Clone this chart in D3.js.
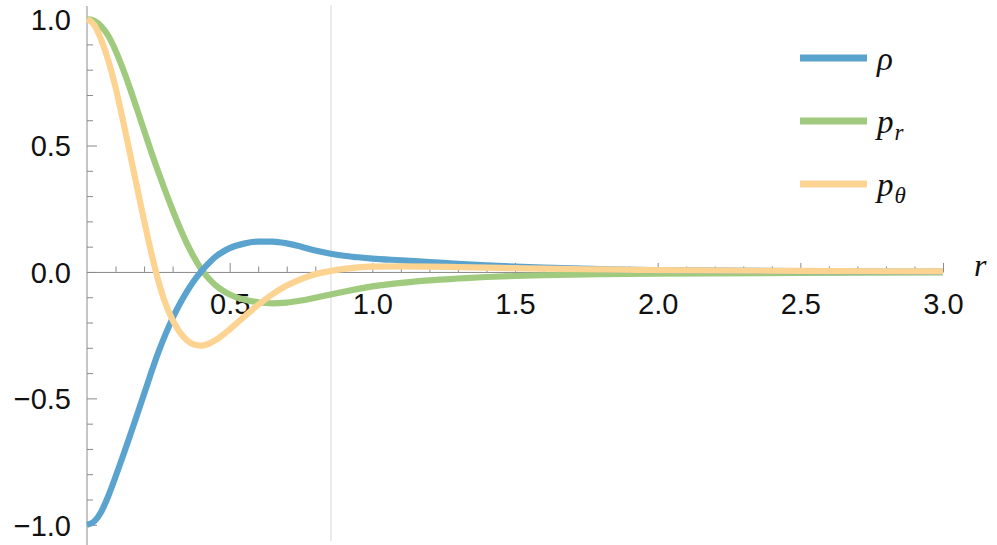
<!DOCTYPE html>
<html><head><meta charset="utf-8">
<script src="https://cdn.jsdelivr.net/npm/d3@7"></script>
<style>body{margin:0;background:#fff} svg{display:block}</style>
</head><body>
<svg id="chart" width="997" height="545"></svg>
<script>
// ---- data ----
const rValues = [0, 0.025, 0.05, 0.075, 0.1, 0.125, 0.15, 0.175, 0.2, 0.225, 0.25, 0.275, 0.3, 0.325, 0.35, 0.375, 0.4, 0.425, 0.45, 0.475, 0.5, 0.55, 0.6, 0.65, 0.7, 0.75, 0.8, 0.85, 0.9, 0.95, 1.0, 1.1, 1.2, 1.3, 1.4, 1.5, 1.6, 1.8, 2.0, 2.5, 3.0];
const rhoValues = [-1.000, -0.987, -0.948, -0.885, -0.810, -0.731, -0.650, -0.567, -0.483, -0.398, -0.318, -0.247, -0.183, -0.127, -0.078, -0.035, 0.002, 0.033, 0.060, 0.079, 0.094, 0.112, 0.120, 0.120, 0.113, 0.100, 0.085, 0.073, 0.064, 0.058, 0.053, 0.046, 0.039, 0.032, 0.026, 0.021, 0.017, 0.011, 0.007, 0.003, 0.001];
const prValues = [1.000, 0.993, 0.971, 0.933, 0.876, 0.806, 0.728, 0.645, 0.560, 0.475, 0.395, 0.318, 0.245, 0.176, 0.113, 0.058, 0.012, -0.024, -0.052, -0.073, -0.089, -0.109, -0.120, -0.124, -0.121, -0.113, -0.102, -0.090, -0.078, -0.067, -0.057, -0.043, -0.033, -0.026, -0.020, -0.016, -0.013, -0.009, -0.007, -0.004, -0.002];
const pthetaValues = [1.000, 0.978, 0.918, 0.835, 0.730, 0.605, 0.472, 0.337, 0.204, 0.077, -0.035, -0.125, -0.190, -0.238, -0.270, -0.287, -0.291, -0.285, -0.270, -0.250, -0.227, -0.178, -0.130, -0.088, -0.054, -0.028, -0.009, 0.003, 0.012, 0.018, 0.021, 0.022, 0.021, 0.019, 0.017, 0.015, 0.013, 0.010, 0.007, 0.004, 0.002];
const seriesNames = ["ρ", "p", "p"];
const seriesSubs = ["", "r", "θ"];
const seriesColors = ["#5ba3cf", "#a0cb7e", "#fdd391"];
const xMajorTicks = [0.5, 1.0, 1.5, 2.0, 2.5, 3.0];
const yMajorTicks = [-1.0, -0.5, 0.0, 0.5, 1.0];
const markerR = 0.855;
const xLabel = "r";

// ---- chart ----
const svg = d3.select("#chart");
const x = d3.scaleLinear().domain([0, 3]).range([87, 943]);
const y = d3.scaleLinear().domain([-1, 1]).range([524.8, 19.1]);
const tickFont = "'Liberation Sans', Arial, sans-serif";
const mathFont = "'Liberation Serif', 'DejaVu Serif', serif";
const fmt = d => (d < 0 ? "\u2212" : "") + Math.abs(d).toFixed(1);

// vertical marker line
svg.append("line")
  .attr("x1", x(markerR)).attr("x2", x(markerR))
  .attr("y1", 5).attr("y2", 541)
  .attr("stroke", "#d8d8d8").attr("stroke-width", 1);

// y axis line
svg.append("line")
  .attr("x1", x(0)).attr("x2", x(0))
  .attr("y1", 6).attr("y2", 545)
  .attr("stroke", "#b8b8b8").attr("stroke-width", 1.6);

// minor ticks
const yMinor = d3.range(-10, 11).map(i => i / 10).filter(v => Math.abs(v * 2 - Math.round(v * 2)) > 1e-6);
const xMinor = d3.range(1, 30).map(i => i / 10).filter(v => Math.abs(v * 2 - Math.round(v * 2)) > 1e-6);

const gyMinor = svg.append("g").attr("transform", `translate(${x(0)},0)`)
  .call(d3.axisLeft(y).tickValues(yMinor).tickSizeInner(-6).tickSizeOuter(0).tickFormat(""));
const gxMinor = svg.append("g").attr("transform", `translate(0,${y(0)})`)
  .call(d3.axisBottom(x).tickValues(xMinor).tickSizeInner(-5.5).tickSizeOuter(0).tickFormat(""));

const gy = svg.append("g").attr("transform", `translate(${x(0)},0)`)
  .call(d3.axisLeft(y).tickValues(yMajorTicks).tickSizeInner(-10).tickSizeOuter(0).tickPadding(16).tickFormat(fmt));
const gx = svg.append("g").attr("transform", `translate(0,${y(0)})`)
  .call(d3.axisBottom(x).tickValues(xMajorTicks).tickSizeInner(-9).tickSizeOuter(0).tickPadding(21).tickFormat(fmt));

[gyMinor, gxMinor, gy, gx].forEach(g => {
  g.selectAll(".tick line").attr("stroke", "#8a8a8a").attr("stroke-width", 1);
  g.selectAll("text").attr("font-family", tickFont).attr("font-size", 29).attr("fill", "#111");
});
gyMinor.select(".domain").remove();
gy.select(".domain").remove();
gxMinor.select(".domain").remove();
gx.select(".domain").attr("stroke", "#8a8a8a").attr("stroke-width", 1);
gy.selectAll("text").attr("dy", "0.36em");

// curves
const data = [rhoValues, prValues, pthetaValues].map(vals => rValues.map((r, i) => [r, vals[i]]));
const line = d3.line().x(d => x(d[0])).y(d => y(d[1])).curve(d3.curveMonotoneX);
const drawOrder = [1, 0, 2];
drawOrder.forEach(i => {
  svg.append("path").datum(data[i])
    .attr("d", line)
    .attr("fill", "none")
    .attr("stroke", seriesColors[i])
    .attr("stroke-width", 6.2)
    .attr("stroke-linejoin", "round");
});

// axis label
svg.append("text").attr("x", 974).attr("y", 276)
  .attr("font-family", mathFont).attr("font-style", "italic").attr("font-size", 32)
  .attr("fill", "#111").text(xLabel);

// legend
const legY = [58, 121, 184];
seriesNames.forEach((name, i) => {
  svg.append("line")
    .attr("x1", 800).attr("x2", 867).attr("y1", legY[i]).attr("y2", legY[i])
    .attr("stroke", seriesColors[i]).attr("stroke-width", 7);
  const t = svg.append("text").attr("x", 877).attr("y", legY[i] + 12)
    .attr("font-family", mathFont).attr("font-style", "italic").attr("font-size", 33).attr("fill", "#111");
  t.append("tspan").text(name);
  if (seriesSubs[i]) {
    t.append("tspan").attr("dy", 7).attr("dx", 1).attr("font-size", 23).text(seriesSubs[i]);
  }
});
</script>
</body></html>
